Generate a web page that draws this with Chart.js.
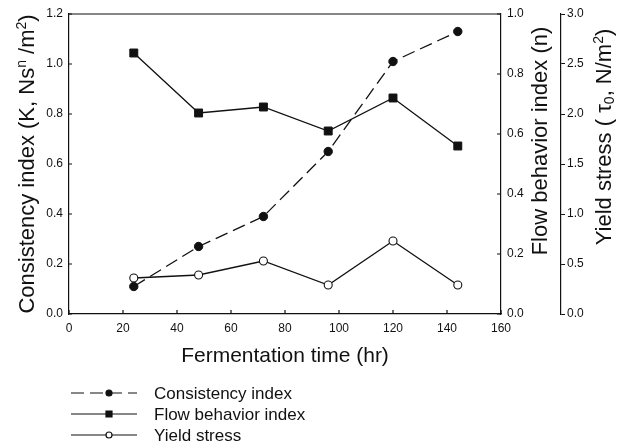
<!DOCTYPE html>
<html>
<head>
<meta charset="utf-8">
<script src="https://cdn.jsdelivr.net/npm/chart.js@4.4.1/dist/chart.umd.min.js"></script>
<style>
    html, body { margin: 0; padding: 0; background: #fff; }
    canvas { display: block; }
</style>
</head>
<body>
<canvas id="chart" width="622" height="448"></canvas>
<script>
const fermentationTime = [24, 48, 72, 96, 120, 144];
const consistencyIndex = [0.11, 0.27, 0.39, 0.65, 1.01, 1.13];
const flowBehaviorIndex = [0.87, 0.67, 0.69, 0.61, 0.72, 0.56];
const yieldStress = [0.36, 0.39, 0.53, 0.29, 0.73, 0.29];

const seriesLabels = ['Consistency index', 'Flow behavior index', 'Yield stress'];
const xTitle = 'Fermentation time (hr)';
//title pieces, second entry marks superscript / subscript
const leftTitle = [['Consistency index (K, Ns'], ['n', 'sup'], [' /m'], ['2', 'sup'], [')']];
const rightTitle = [['Flow behavior index (n)']];
const farRightTitle = [['Yield stress ( \u03c4'], ['0', 'sub'], [', N/m'], ['2', 'sup'], [')']];

const FONT = '"Liberation Sans", Arial, Helvetica, sans-serif';
const ink = '#111';

const toPoints = (values) => values.map((v, i) => ({x: fermentationTime[i], y: v}));

//draws a title made of pieces, centred on (cx, cy)
const drawRichText = (ctx, parts, cx, cy, size, rotate) => {
    ctx.save();
    ctx.translate(cx, cy);
    if (rotate) ctx.rotate(-Math.PI / 2);
    ctx.textAlign = 'left';
    ctx.textBaseline = 'alphabetic';
    ctx.fillStyle = ink;
    const small = Math.round(size * 0.62);
    const fonts = parts.map(([t, kind]) => `${kind ? small : size}px ${FONT}`);
    const widths = parts.map(([t], i) => {
        ctx.font = fonts[i];
        return ctx.measureText(t).width;
    });
    let x = -widths.reduce((a, b) => a + b) / 2;
    const base = size * 0.36;
    parts.forEach(([t, kind], i) => {
        ctx.font = fonts[i];
        let dy = 0;
        if (kind == 'sup') dy = -size * 0.38;
        if (kind == 'sub') dy = size * 0.16;
        ctx.fillText(t, x, base + dy);
        x += widths[i];
    });
    ctx.restore();
}

const drawMarker = (ctx, style, x, y, r, filled) => {
    ctx.beginPath();
    if (style == 'rect') {
        ctx.rect(x - r, y - r, r * 2, r * 2);
    } else {
        ctx.arc(x, y, r, 0, Math.PI * 2);
    }
    ctx.fillStyle = filled ? ink : '#fff';
    ctx.fill();
    ctx.stroke();
}

const decorPlugin = {
    id: 'decor',
    afterDraw(chart) {
        const {ctx, chartArea: area, scales} = chart;
        ctx.save();
        ctx.strokeStyle = ink;
        ctx.lineWidth = 1.2;

        //top frame line
        ctx.beginPath();
        ctx.moveTo(area.left, area.top);
        ctx.lineTo(area.right, area.top);
        ctx.stroke();

        //inward ticks
        ctx.beginPath();
        scales.x.ticks.forEach(t => {
            const px = scales.x.getPixelForValue(t.value);
            ctx.moveTo(px, area.bottom);
            ctx.lineTo(px, area.bottom - 4);
        });
        scales.y.ticks.forEach(t => {
            const py = scales.y.getPixelForValue(t.value);
            ctx.moveTo(area.left, py);
            ctx.lineTo(area.left + 3, py);
        });
        scales.y1.ticks.forEach(t => {
            const py = scales.y1.getPixelForValue(t.value);
            ctx.moveTo(area.right, py);
            ctx.lineTo(area.right - 4, py);
        });
        ctx.stroke();

        //axis titles
        drawRichText(ctx, [[xTitle]], (area.left + area.right) / 2, area.bottom + 40, 21, false);
        drawRichText(ctx, leftTitle, 26, (area.top + area.bottom) / 2, 22, true);
        drawRichText(ctx, rightTitle, scales.y1.right - 22, area.top + 127, 22, true);
        drawRichText(ctx, farRightTitle, scales.y2.right - 19, area.top + 123, 22, true);

        //legend below the plot
        chart.data.datasets.forEach((ds, i) => {
            const rowY = area.bottom + 79 + i * 21;
            const x0 = area.left + 2;
            const x1 = area.left + 68;
            ctx.lineWidth = 1.2;
            ctx.setLineDash(ds.borderDash ? [13, 6] : []);
            ctx.beginPath();
            ctx.moveTo(x0, rowY);
            ctx.lineTo(x1, rowY);
            ctx.stroke();
            ctx.setLineDash([]);
            drawMarker(ctx, ds.pointStyle, area.left + 40, rowY, 3, ds.pointBackgroundColor == ink);
            ctx.fillStyle = ink;
            ctx.font = `17px ${FONT}`;
            ctx.textAlign = 'left';
            ctx.textBaseline = 'middle';
            ctx.fillText(ds.label, area.left + 85, rowY + 1);
        });
        ctx.restore();
    }
};

const tickFont = {family: FONT, size: 12};
const oneDecimal = (v) => Number(v).toFixed(1);

const chart = new Chart(document.getElementById('chart').getContext('2d'), {
    type: 'line',
    data: {
        datasets: [
            {
                label: seriesLabels[0],
                data: toPoints(consistencyIndex),
                yAxisID: 'y',
                borderColor: ink,
                borderWidth: 1.3,
                borderDash: [13, 6],
                pointStyle: 'circle',
                pointRadius: 4.2,
                pointBackgroundColor: ink,
                pointBorderColor: ink,
                pointBorderWidth: 1
            },
            {
                label: seriesLabels[1],
                data: toPoints(flowBehaviorIndex),
                yAxisID: 'y1',
                borderColor: ink,
                borderWidth: 1.3,
                pointStyle: 'rect',
                pointRadius: 5.6,
                pointBackgroundColor: ink,
                pointBorderColor: ink,
                pointBorderWidth: 1
            },
            {
                label: seriesLabels[2],
                data: toPoints(yieldStress),
                yAxisID: 'y2',
                borderColor: ink,
                borderWidth: 1.3,
                pointStyle: 'circle',
                pointRadius: 4,
                pointBackgroundColor: '#fff',
                pointBorderColor: ink,
                pointBorderWidth: 1.1
            }
        ]
    },
    options: {
        responsive: false,
        animation: false,
        devicePixelRatio: 1,
        layout: {padding: {top: 14, left: 0, right: 0, bottom: 0}},
        plugins: {
            legend: {display: false},
            tooltip: {enabled: false}
        },
        scales: {
            x: {
                type: 'linear',
                min: 0,
                max: 160,
                ticks: {stepSize: 20, font: tickFont, color: ink, padding: 7, maxRotation: 0},
                grid: {drawOnChartArea: false, drawTicks: false},
                border: {color: ink, width: 1.2},
                afterFit: (scale) => { scale.height = 134; }
            },
            y: {
                position: 'left',
                min: 0,
                max: 1.2,
                ticks: {stepSize: 0.2, font: tickFont, color: ink, padding: 6, callback: oneDecimal},
                grid: {drawOnChartArea: false, drawTicks: false},
                border: {color: ink, width: 1.2},
                afterFit: (scale) => { scale.width = 69; }
            },
            y1: {
                position: 'right',
                min: 0,
                max: 1.0,
                ticks: {stepSize: 0.2, font: tickFont, color: ink, padding: 6, callback: oneDecimal},
                grid: {drawOnChartArea: false, drawTicks: false},
                border: {color: ink, width: 1.2},
                afterFit: (scale) => { scale.width = 60; }
            },
            y2: {
                position: 'right',
                min: 0,
                max: 3.0,
                ticks: {stepSize: 0.5, font: tickFont, color: ink, padding: 2, callback: oneDecimal},
                grid: {drawOnChartArea: false, drawTicks: true, tickLength: 4, color: ink, lineWidth: 1},
                border: {color: ink, width: 1.2},
                afterFit: (scale) => { scale.width = 61; }
            }
        }
    },
    plugins: [decorPlugin]
});
</script>
</body>
</html>
